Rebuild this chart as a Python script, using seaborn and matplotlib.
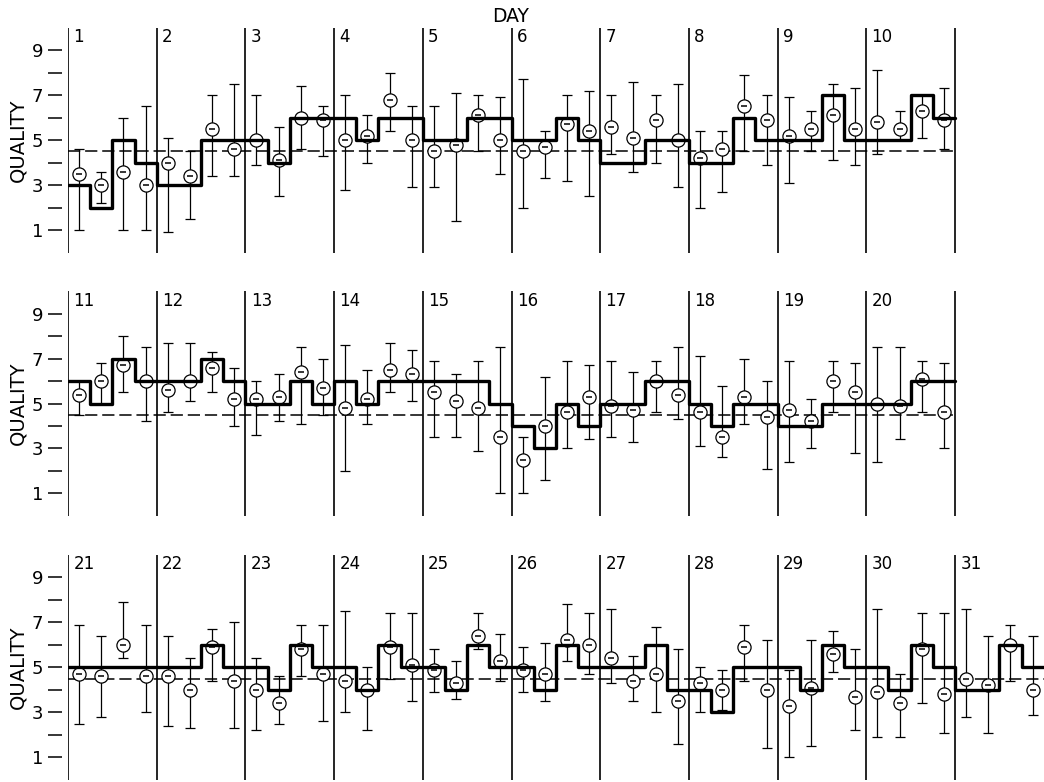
import numpy as np
import pandas as pd
import matplotlib
matplotlib.use("Agg")
import matplotlib.pyplot as plt
import seaborn as sns

# --- data: 31 days, 4 periods per day ---
days = list(range(1, 32))

# step level (thick line), one value per period
level = [
    3, 2, 5, 4,   3, 3, 5, 5,   5, 4, 6, 6,   6, 5, 6, 6,   5, 5, 6, 6,
    5, 5, 6, 5,   4, 4, 5, 5,   4, 4, 6, 5,   5, 5, 7, 5,   5, 5, 7, 6,
    6, 5, 7, 6,   6, 6, 7, 6,   5, 5, 6, 5,   6, 5, 6, 6,   6, 6, 6, 5,
    4, 3, 5, 4,   5, 5, 6, 6,   5, 4, 5, 5,   4, 4, 5, 5,   5, 5, 6, 6,
    5, 5, 5, 5,   5, 5, 6, 5,   5, 4, 6, 5,   5, 4, 6, 5,   5, 4, 6, 5,
    5, 4, 6, 5,   5, 5, 6, 4,   4, 3, 5, 5,   5, 4, 6, 5,   5, 4, 6, 5,
    4, 4, 6, 5,
]

# mean quality (circles)
quality = [
    3.5, 3.0, 3.6, 3.0,   4.0, 3.4, 5.5, 4.6,   5.0, 4.1, 6.0, 5.9,
    5.0, 5.2, 6.8, 5.0,   4.5, 4.8, 6.1, 5.0,   4.5, 4.7, 5.7, 5.4,
    5.6, 5.1, 5.9, 5.0,   4.2, 4.6, 6.5, 5.9,   5.2, 5.5, 6.1, 5.5,
    5.8, 5.5, 6.3, 5.9,
    5.4, 6.0, 6.7, 6.0,   5.6, 6.0, 6.6, 5.2,   5.2, 5.3, 6.4, 5.7,
    4.8, 5.2, 6.5, 6.3,   5.5, 5.1, 4.8, 3.5,   2.5, 4.0, 4.6, 5.3,
    4.9, 4.7, 6.0, 5.4,   4.6, 3.5, 5.3, 4.4,   4.7, 4.2, 6.0, 5.5,
    5.0, 4.9, 6.1, 4.6,
    4.7, 4.6, 6.0, 4.6,   4.6, 4.0, 5.9, 4.4,   4.0, 3.4, 5.8, 4.7,
    4.4, 4.0, 5.9, 5.1,   4.9, 4.3, 6.4, 5.3,   4.9, 4.7, 6.2, 6.0,
    5.4, 4.4, 4.7, 3.5,   4.3, 4.0, 5.9, 4.0,   3.3, 4.1, 5.6, 3.7,
    3.9, 3.4, 5.8, 3.8,   4.5, 4.2, 6.0, 4.0,
]

# upper end of the bars
err_hi = [
    4.6, 3.6, 6.0, 6.5,   5.1, 4.5, 7.0, 7.5,   7.0, 5.6, 7.4, 6.5,
    7.0, 6.1, 8.0, 6.5,   6.5, 7.1, 7.0, 6.9,   7.7, 5.4, 7.0, 7.2,
    7.0, 7.6, 7.0, 7.5,   5.4, 5.4, 7.9, 7.0,   6.9, 6.3, 7.5, 7.3,
    8.1, 6.3, 7.0, 7.3,
    6.0, 6.8, 8.0, 7.5,   7.7, 7.7, 7.3, 6.6,   6.0, 6.3, 7.5, 7.0,
    7.6, 6.5, 7.7, 7.4,   6.9, 6.3, 6.9, 7.5,   3.5, 6.2, 6.9, 6.7,
    6.9, 6.4, 6.9, 7.5,   7.1, 5.8, 7.0, 6.0,   6.9, 5.2, 6.9, 6.8,
    7.5, 7.5, 6.9, 6.8,
    6.9, 6.4, 7.9, 6.9,   6.4, 5.4, 6.7, 7.0,   5.4, 4.6, 6.9, 6.9,
    7.5, 5.0, 7.4, 7.4,   5.8, 5.3, 7.4, 6.5,   5.9, 6.1, 7.8, 7.4,
    7.6, 5.5, 6.8, 5.8,   5.0, 4.9, 6.9, 6.2,   4.9, 6.2, 6.6, 5.8,
    7.6, 4.7, 7.4, 7.4,   7.6, 6.4, 6.9, 6.4,
]

# lower end of the bars
err_lo = [
    1.0, 2.2, 1.0, 1.0,   0.9, 1.5, 3.4, 3.4,   3.9, 2.5, 4.6, 4.3,
    2.8, 4.0, 5.4, 2.9,   2.9, 1.4, 4.5, 3.5,   2.0, 3.3, 3.2, 2.5,
    4.4, 3.6, 4.0, 2.9,   2.0, 2.7, 4.5, 3.9,   3.1, 4.5, 4.1, 3.9,
    4.4, 5.0, 5.1, 4.6,
    4.5, 5.0, 5.5, 4.2,   4.6, 5.1, 5.5, 4.0,   3.6, 4.2, 4.1, 4.5,
    2.0, 4.1, 5.5, 5.1,   3.5, 3.5, 2.9, 1.0,   1.0, 1.6, 3.0, 3.4,
    3.5, 3.3, 4.6, 4.3,   3.1, 2.6, 4.1, 2.1,   2.4, 3.0, 4.6, 2.8,
    2.4, 3.4, 4.6, 3.0,
    2.5, 2.8, 5.4, 3.0,   2.4, 2.3, 4.4, 2.3,   2.2, 2.5, 4.6, 2.6,
    3.0, 2.2, 4.5, 3.5,   3.9, 3.6, 5.8, 4.4,   3.9, 3.5, 5.3, 4.7,
    4.3, 3.5, 3.0, 1.6,   3.0, 3.1, 4.4, 1.4,   1.0, 1.5, 4.8, 2.2,
    1.9, 1.9, 3.4, 2.1,   2.8, 2.1, 4.4, 2.9,
]

grand_mean = 4.5
row_days = [(1, 10), (11, 20), (21, 31)]
major_ticks = [1, 3, 5, 7, 9]
minor_ticks = [2, 4, 6, 8]

# --- build table ---
df = pd.DataFrame({
    'day': np.repeat(days, 4),
    'period': np.tile(np.arange(4), len(days)),
    'level': level,
    'quality': quality,
    'hi': err_hi,
    'lo': err_lo,
})

sns.set_theme(style="white")
plt.rcParams['font.family'] = ['DejaVu Sans']

fig = plt.figure(figsize=(10.44, 7.82), dpi=100)
day_w = 88.7 / 1044
left = 68 / 1044
row_boxes = [(0.6771, 0.2877), (0.3405, 0.2870), (0.0028, 0.2877)]

for (first, last), (bottom, height) in zip(row_days, row_boxes):
    ax = fig.add_axes([left, bottom, 11 * day_w, height])
    ax.patch.set_alpha(0)
    sub = df[(df['day'] >= first) & (df['day'] <= last)].copy()
    n = last - first + 1
    sub['x_step'] = (sub['day'] - first) + sub['period'] / 4
    sub['x_pt'] = sub['x_step'] + 0.125

    # day separators and day numbers
    bounds = range(n + 1) if n < 11 else range(n)
    for b in bounds:
        ax.axvline(b, color='black', lw=1.2, zorder=1)
    for d in range(first, last + 1):
        ax.text(d - first + 0.06, 9.35, str(d), fontsize=12,
                ha='left', va='baseline', color='black')

    # overall mean
    ax.hlines(grand_mean, 0, n, colors='black', lw=1.1,
              linestyles=(0, (8, 3.2)), zorder=2)

    # range bars
    ax.errorbar(sub['x_pt'], sub['quality'],
                yerr=[sub['quality'] - sub['lo'], sub['hi'] - sub['quality']],
                fmt='none', ecolor='black', elinewidth=0.9,
                capsize=3.3, capthick=0.9, zorder=3)

    # circles with a bar inside
    sns.scatterplot(data=sub, x='x_pt', y='quality', marker='o', s=90,
                    color='white', edgecolor='black', linewidth=0.9,
                    zorder=4, ax=ax, legend=False)
    ax.plot(sub['x_pt'], sub['quality'], ls='none', marker='_', ms=4.5,
            mew=1.1, color='black', zorder=5)

    # step line
    step_x = list(sub['x_step']) + [n]
    step_y = list(sub['level']) + [sub['level'].iloc[-1]]
    sns.lineplot(x=step_x, y=step_y, drawstyle='steps-post', color='black',
                 lw=2.4, estimator=None, sort=False, ax=ax, zorder=6)

    ax.set_xlim(0, 11)
    ax.set_ylim(0, 10)
    ax.set_xticks([])
    ax.set_yticks(major_ticks)
    ax.set_yticks(minor_ticks, minor=True)
    ax.set_xlabel('')
    ax.set_ylabel('')
    for s in ['top', 'right', 'bottom']:
        ax.spines[s].set_visible(False)
    ax.spines['left'].set_position(('outward', 4.3))
    ax.spines['left'].set_color('none')
    ax.tick_params(axis='y', which='both', left=True, length=10, width=1.1,
                   color='black', pad=3.6, labelsize=13, labelcolor='black')
    ax.text(-0.0512, 0.5, 'QUALITY', transform=ax.transAxes, rotation=90,
            ha='center', va='center', fontsize=14, color='black')

fig.text(511 / 1044, 1 - 21.7 / 782, 'DAY', ha='center', va='baseline',
         fontsize=13.5, color='black')

fig.savefig('out.png', dpi=100)
